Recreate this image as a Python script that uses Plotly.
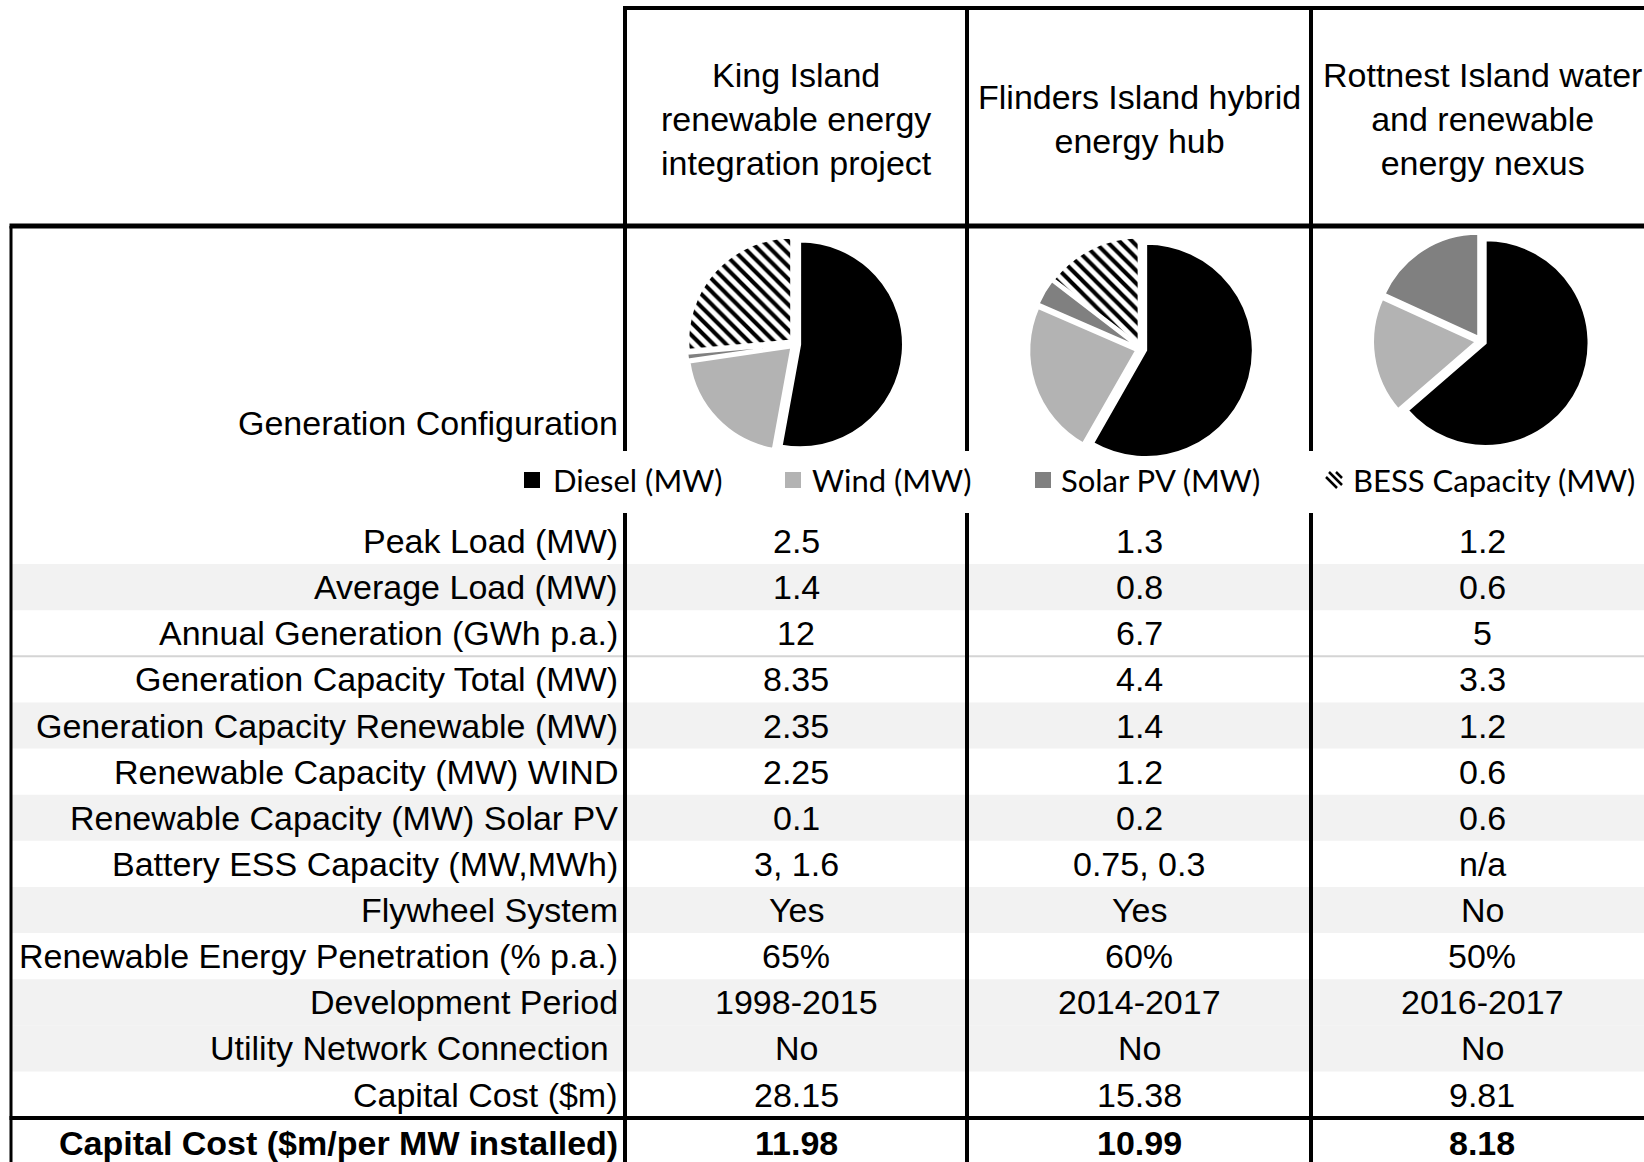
import plotly.graph_objects as go

W, H = 1644, 1162

# ---------------- data ----------------
projects = [
    ["King Island", "renewable energy", "integration project"],
    ["Flinders Island hybrid", "energy hub"],
    ["Rottnest Island water", "and renewable", "energy nexus"],
]
sources = ["Diesel (MW)", "Wind (MW)", "Solar PV (MW)", "BESS Capacity (MW)"]
diesel_mw = [6.0, 3.0, 2.1]
wind_mw = [2.25, 1.2, 0.6]
solar_mw = [0.1, 0.2, 0.6]
bess_mw = [3.0, 0.75, 0.0]

row_labels = [
    "Peak Load (MW)", "Average Load (MW)", "Annual Generation (GWh p.a.)",
    "Generation Capacity Total (MW)", "Generation Capacity Renewable (MW)",
    "Renewable Capacity (MW) WIND", "Renewable Capacity (MW) Solar PV",
    "Battery ESS Capacity (MW,MWh)", "Flywheel System",
    "Renewable Energy Penetration (% p.a.)", "Development Period",
    "Utility Network Connection\u00a0", "Capital Cost ($m)",
]
king_vals = ["2.5", "1.4", "12", "8.35", "2.35", "2.25", "0.1", "3, 1.6", "Yes",
             "65%", "1998-2015", "No", "28.15"]
flinders_vals = ["1.3", "0.8", "6.7", "4.4", "1.4", "1.2", "0.2", "0.75, 0.3", "Yes",
                 "60%", "2014-2017", "No", "15.38"]
rottnest_vals = ["1.2", "0.6", "5", "3.3", "1.2", "0.6", "0.6", "n/a", "No",
                 "50%", "2016-2017", "No", "9.81"]
total_label = "Capital Cost ($m/per MW installed)"
total_vals = ["11.98", "10.99", "8.18"]
gray_rows = [1, 4, 6, 8, 10, 11]

# ---------------- layout constants ----------------
FONT = "Liberation Sans, Arial, sans-serif"
LFONT = "Lato, Calibri, sans-serif"
FS = 34
col_edges = [625, 967, 1311, 1653]
col_centers = [(col_edges[i] + col_edges[i + 1]) / 2 for i in range(3)]
label_right = 620
left_x = 11
row0, row_h = 541, 46.13
header_top, header_bot = 8, 226
pie_bot, data_top = 451, 513
total_line_y = 1118
total_y = 1143
pie_geom = [(795, 344, 216), (1141, 349, 224), (1481, 341, 216)]  # cx, cy, size
BLACK = "#000000"

fig = go.Figure()

# pies
colors = [BLACK, "#b3b3b3", "#808080", "#ffffff"]
for i in range(3):
    cx, cy, sz = pie_geom[i]
    vals = [diesel_mw[i], wind_mw[i], solar_mw[i], bess_mw[i]]
    fig.add_trace(go.Pie(
        labels=sources, values=vals, sort=False, direction="clockwise", rotation=0,
        marker=dict(colors=colors, line=dict(color="white", width=2),
                    pattern=dict(shape=["", "", "", "\\"], fgcolor=BLACK,
                                 size=9, solidity=0.45)),
        pull=[0.05] * 4, textinfo="none", hoverinfo="label+value",
        showlegend=False,
        domain=dict(x=[(cx - sz / 2) / W, (cx + sz / 2) / W],
                    y=[1 - (cy + sz / 2) / H, 1 - (cy - sz / 2) / H]),
    ))

# invisible pixel axes
fig.add_trace(go.Scatter(x=[0, W], y=[0, H], mode="markers",
                         marker=dict(opacity=0), hoverinfo="skip", showlegend=False))

shapes = []
# gray bands
for r in gray_rows:
    yc = row0 + r * row_h
    shapes.append(dict(type="rect", xref="x", yref="y", x0=left_x, x1=W,
                       y0=yc - row_h / 2, y1=yc + row_h / 2,
                       fillcolor="#f2f2f2", line=dict(width=0), layer="below"))
# thin separator between rows 2 and 3
ysep = row0 + 2.5 * row_h
shapes.append(dict(type="line", xref="x", yref="y", x0=left_x, x1=W, y0=ysep, y1=ysep,
                   line=dict(color="#d4d4d4", width=2)))
# header top
shapes.append(dict(type="line", xref="x", yref="y", x0=col_edges[0] - 2, x1=W,
                   y0=header_top, y1=header_top, line=dict(color=BLACK, width=4)))
# thick lines
shapes.append(dict(type="line", xref="x", yref="y", x0=left_x - 1.5, x1=W,
                   y0=header_bot, y1=header_bot, line=dict(color=BLACK, width=5)))
shapes.append(dict(type="line", xref="x", yref="y", x0=left_x - 1.5, x1=W,
                   y0=total_line_y, y1=total_line_y, line=dict(color=BLACK, width=4)))
# left border
shapes.append(dict(type="line", xref="x", yref="y", x0=left_x, x1=left_x,
                   y0=header_bot, y1=H, line=dict(color=BLACK, width=3)))
# column borders
for x in col_edges[:3]:
    shapes.append(dict(type="line", xref="x", yref="y", x0=x, x1=x,
                       y0=header_top, y1=pie_bot, line=dict(color=BLACK, width=4)))
    shapes.append(dict(type="line", xref="x", yref="y", x0=x, x1=x,
                       y0=data_top, y1=H, line=dict(color=BLACK, width=4)))

annotations = []
# headers
for i, lines in enumerate(projects):
    annotations.append(dict(xref="x", yref="y", x=col_centers[i], y=119,
                            text="<br>".join(lines), showarrow=False,
                            xanchor="center", yanchor="middle",
                            font=dict(family=FONT, size=FS, color=BLACK)))
# generation configuration label
annotations.append(dict(xref="x", yref="y", x=label_right, y=423,
                        text="Generation Configuration", showarrow=False,
                        xanchor="right", yanchor="middle",
                        font=dict(family=FONT, size=FS, color=BLACK)))
# rows
for r, lab in enumerate(row_labels):
    yc = row0 + r * row_h
    annotations.append(dict(xref="x", yref="y", x=label_right, y=yc, text=lab,
                            showarrow=False, xanchor="right", yanchor="middle",
                            font=dict(family=FONT, size=FS, color=BLACK)))
    for c, vals in enumerate([king_vals, flinders_vals, rottnest_vals]):
        annotations.append(dict(xref="x", yref="y", x=col_centers[c], y=yc,
                                text=vals[r], showarrow=False,
                                xanchor="center", yanchor="middle",
                                font=dict(family=FONT, size=FS, color=BLACK)))
# total row
annotations.append(dict(xref="x", yref="y", x=label_right, y=total_y,
                        text="<b>%s</b>" % total_label, showarrow=False,
                        xanchor="right", yanchor="middle",
                        font=dict(family=FONT, size=FS, color=BLACK)))
for c in range(3):
    annotations.append(dict(xref="x", yref="y", x=col_centers[c], y=total_y,
                            text="<b>%s</b>" % total_vals[c], showarrow=False,
                            xanchor="center", yanchor="middle",
                            font=dict(family=FONT, size=FS, color=BLACK)))

# legend (manual)
leg_y = 480
leg_marker_x = [524, 785, 1035, 1326]
leg_text_x = [551, 810, 1059, 1351]
for k in range(4):
    mx = leg_marker_x[k]
    if k < 3:
        shapes.append(dict(type="rect", xref="x", yref="y", x0=mx, x1=mx + 16,
                           y0=leg_y - 8, y1=leg_y + 8, fillcolor=colors[k],
                           line=dict(width=0)))
    else:
        top, bot = leg_y - 8, leg_y + 8
        strokes = [(mx, top + 5, mx + 11, bot), (mx + 3, top, mx + 16, bot - 3),
                   (mx + 10, top, mx + 16, top + 6)]
        for (a, b, c2, d) in strokes:
            shapes.append(dict(type="line", xref="x", yref="y", x0=a, y0=b, x1=c2, y1=d,
                               line=dict(color=BLACK, width=2.5)))
    annotations.append(dict(xref="x", yref="y", x=leg_text_x[k], y=leg_y,
                            text=sources[k], showarrow=False,
                            xanchor="left", yanchor="middle",
                            font=dict(family=LFONT, size=31, color=BLACK)))

fig.update_layout(
    width=W, height=H, margin=dict(l=0, r=0, t=0, b=0),
    paper_bgcolor="white", plot_bgcolor="white",
    xaxis=dict(range=[0, W], visible=False, domain=[0, 1], fixedrange=True),
    yaxis=dict(range=[H, 0], visible=False, domain=[0, 1], fixedrange=True),
    shapes=shapes, annotations=annotations, showlegend=False,
)
fig.write_html("out.html")
